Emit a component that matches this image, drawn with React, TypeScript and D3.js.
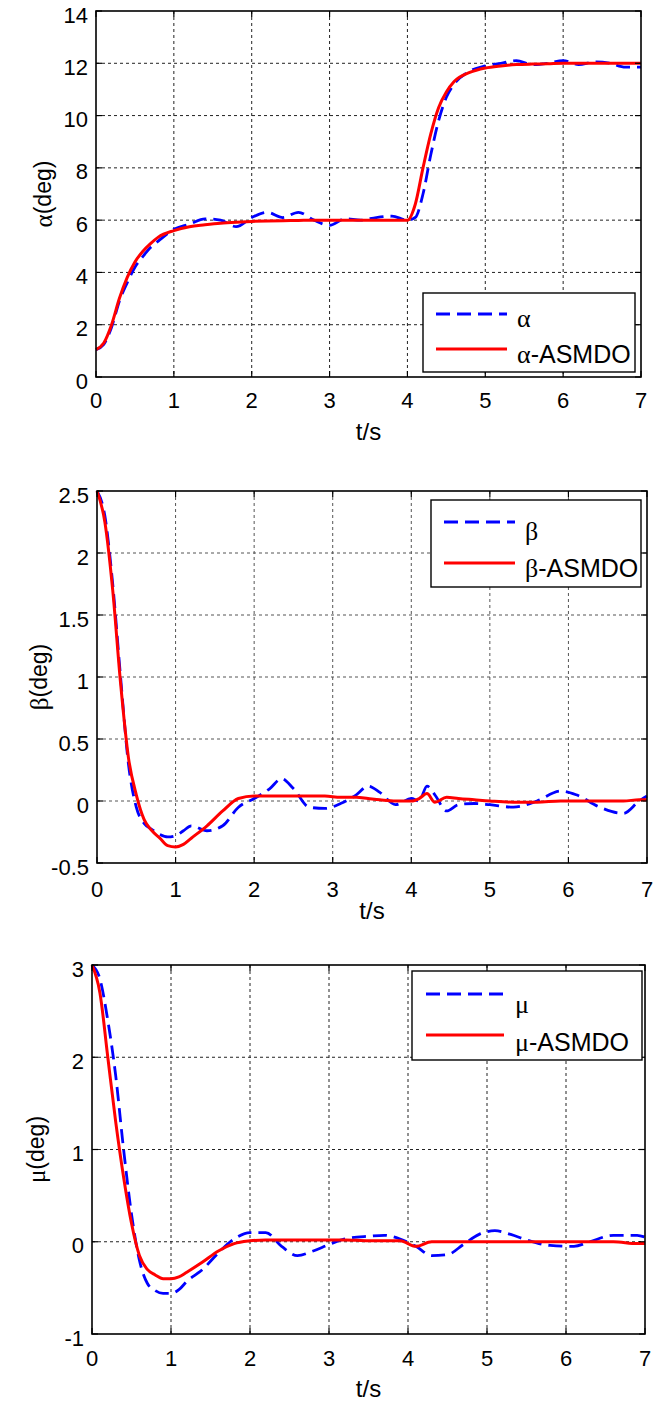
import React from "react";
import * as d3 from "d3";

// time samples (s) and values
const tAlpha = [0, 0.1, 0.2, 0.3, 0.4, 0.5, 0.6, 0.7, 0.8, 1.0, 1.2, 1.4, 1.6, 1.8, 2.0, 2.2, 2.4, 2.6, 2.8, 3.0, 3.2, 3.4, 3.6, 3.8, 4.0, 4.1, 4.2, 4.3, 4.4, 4.5, 4.6, 4.8, 5.0, 5.2, 5.4, 5.6, 5.8, 6.0, 6.2, 6.4, 6.6, 6.8, 7.0];
const alphaTrue = [1.05, 1.25, 1.9, 2.9, 3.6, 4.2, 4.6, 4.95, 5.2, 5.65, 5.85, 6.05, 6.0, 5.75, 6.1, 6.3, 6.1, 6.3, 6.0, 5.8, 6.05, 6.0, 6.1, 6.15, 6.0, 6.1, 7.0, 8.5, 9.8, 10.7, 11.2, 11.7, 11.9, 12.0, 12.1, 11.95, 12.0, 12.1, 11.95, 12.05, 12.0, 11.85, 11.85];
const alphaEst = [1.05, 1.3, 2.0, 3.0, 3.8, 4.4, 4.8, 5.1, 5.35, 5.6, 5.75, 5.82, 5.88, 5.92, 5.95, 5.97, 5.98, 5.99, 6.0, 6.0, 6.0, 6.0, 6.0, 6.0, 6.0, 6.6, 8.0, 9.3, 10.3, 10.9, 11.3, 11.65, 11.82, 11.9, 11.95, 11.97, 11.98, 12.0, 12.0, 12.0, 12.0, 12.0, 12.0];

const tBeta = [0, 0.1, 0.2, 0.3, 0.4, 0.5, 0.6, 0.7, 0.8, 0.9, 1.0, 1.1, 1.2, 1.4, 1.6, 1.8, 2.0, 2.2, 2.35, 2.5, 2.7, 2.9, 3.1, 3.3, 3.45, 3.6, 3.8, 4.0, 4.1, 4.2, 4.3, 4.45, 4.6, 4.8, 5.0, 5.3, 5.6, 5.9, 6.1, 6.4, 6.7, 6.9, 7.0];
const betaTrue = [2.5, 2.3, 1.75, 1.0, 0.3, -0.05, -0.18, -0.23, -0.27, -0.29, -0.28, -0.24, -0.2, -0.24, -0.2, -0.05, 0.02, 0.1, 0.18, 0.1, -0.05, -0.06, -0.02, 0.05, 0.12, 0.07, -0.03, 0.02, 0.0, 0.12, 0.05, -0.08, -0.03, -0.02, -0.03, -0.05, 0.0, 0.08, 0.05, -0.05, -0.1, 0.0, 0.04];
const betaEst = [2.5, 2.25, 1.7, 0.95, 0.35, 0.05, -0.15, -0.24, -0.3, -0.36, -0.37, -0.35, -0.3, -0.2, -0.08, 0.02, 0.04, 0.04, 0.04, 0.04, 0.04, 0.04, 0.03, 0.03, 0.02, 0.01, 0.0, 0.0, 0.02, 0.06, -0.01, 0.03, 0.02, 0.01, 0.0, -0.01, -0.01, 0.0, 0.0, 0.0, 0.0, 0.01, 0.01];

const tMu = [0, 0.1, 0.2, 0.3, 0.4, 0.5, 0.6, 0.7, 0.8, 0.9, 1.0, 1.1, 1.2, 1.4, 1.6, 1.8, 2.0, 2.2, 2.4, 2.6, 2.8, 3.0, 3.2, 3.5, 3.7, 3.9, 4.1, 4.3, 4.5, 4.7, 4.9, 5.1, 5.3, 5.5, 5.8, 6.1, 6.3, 6.6, 6.9, 7.0];
const muTrue = [3.0, 2.85, 2.4, 1.8, 1.0, 0.3, -0.2, -0.45, -0.53, -0.56, -0.56, -0.52, -0.43, -0.3, -0.12, 0.03, 0.1, 0.1, -0.05, -0.15, -0.1, -0.03, 0.03, 0.06, 0.07, 0.03, -0.05, -0.15, -0.14, -0.03, 0.08, 0.12, 0.08, 0.02, -0.04, -0.05, 0.0, 0.07, 0.07, 0.05];
const muEst = [3.0, 2.7, 2.0, 1.3, 0.7, 0.2, -0.15, -0.3, -0.36, -0.4, -0.4, -0.38, -0.33, -0.22, -0.1, -0.02, 0.01, 0.02, 0.02, 0.02, 0.02, 0.02, 0.02, 0.01, 0.01, 0.01, -0.05, 0.0, 0.0, 0.0, 0.0, 0.0, 0.0, 0.0, 0.0, 0.0, 0.0, 0.0, -0.02, -0.02];

const xTicks = [0, 1, 2, 3, 4, 5, 6, 7];
const alphaTicks = [0, 2, 4, 6, 8, 10, 12, 14];
const betaTicks = [-0.5, 0, 0.5, 1, 1.5, 2, 2.5];
const muTicks = [-1, 0, 1, 2, 3];

const FONT = "Arial, 'Liberation Sans', Helvetica, sans-serif";
const GREEK = "'Times New Roman', 'Liberation Serif', serif";

type PanelProps = {
  frame: { left: number; right: number; top: number; bottom: number };
  t: number[];
  obs: number[];
  est: number[];
  yTicks: number[];
  sym: string;
  grid: string;
  xLabelY: number;
  xTickDy: number;
  yLabelX: number;
  legend: { x0: number; x1: number; y0: number; y1: number; lx0: number; lx1: number; ly1: number; ly2: number; tx: number; ty1: number; ty2: number };
};

function Panel({ frame, t, obs, est, yTicks, sym, grid, xLabelY, xTickDy, yLabelX, legend }: PanelProps) {
  const { left, right, top, bottom } = frame;
  const x = d3.scaleLinear().domain([0, 7]).range([left, right]);
  const y = d3.scaleLinear().domain([yTicks[0], yTicks[yTicks.length - 1]]).range([bottom, top]);
  const line = d3
    .line<number>()
    .x((_, i) => x(t[i]))
    .y((d) => y(d))
    .curve(d3.curveMonotoneX);
  const tick = 6;

  return (
    <g>
      {/* grid */}
      {xTicks.slice(1, -1).map((v) => (
        <line key={"gx" + v} x1={x(v)} x2={x(v)} y1={top} y2={bottom} stroke={grid} strokeWidth={1} strokeDasharray="3,3" />
      ))}
      {yTicks.slice(1, -1).map((v) => (
        <line key={"gy" + v} x1={left} x2={right} y1={y(v)} y2={y(v)} stroke={grid} strokeWidth={1} strokeDasharray="3,3" />
      ))}

      {/* curves */}
      <path d={line(obs) || ""} fill="none" stroke="#0000ff" strokeWidth={2.8} strokeDasharray="14,7" />
      <path d={line(est) || ""} fill="none" stroke="#ff0000" strokeWidth={3} />

      {/* ticks, inward on all sides */}
      {xTicks.map((v) => (
        <g key={"tx" + v}>
          <line x1={x(v)} x2={x(v)} y1={bottom} y2={bottom - tick} stroke="#000" strokeWidth={1.2} />
          <line x1={x(v)} x2={x(v)} y1={top} y2={top + tick} stroke="#000" strokeWidth={1.2} />
          <text x={x(v)} y={bottom + xTickDy} textAnchor="middle" fontSize={22} fontFamily={FONT}>
            {v}
          </text>
        </g>
      ))}
      {yTicks.map((v) => (
        <g key={"ty" + v}>
          <line x1={left} x2={left + tick} y1={y(v)} y2={y(v)} stroke="#000" strokeWidth={1.2} />
          <line x1={right} x2={right - tick} y1={y(v)} y2={y(v)} stroke="#000" strokeWidth={1.2} />
          <text x={left - 8} y={y(v) + 11.5} textAnchor="end" fontSize={22} fontFamily={FONT}>
            {v}
          </text>
        </g>
      ))}

      <rect x={left} y={top} width={right - left} height={bottom - top} fill="none" stroke="#000" strokeWidth={1.6} />

      {/* labels */}
      <text x={(left + right) / 2} y={xLabelY} textAnchor="middle" fontSize={24} fontFamily={FONT}>
        t/s
      </text>
      <text
        transform={`translate(${yLabelX},${(top + bottom) / 2}) rotate(-90)`}
        textAnchor="middle"
        dominantBaseline="central"
        fontSize={23}
        fontFamily={FONT}
      >
        <tspan fontFamily={GREEK} fontSize={25}>{sym}</tspan>(deg)
      </text>

      {/* legend */}
      <rect x={legend.x0} y={legend.y0} width={legend.x1 - legend.x0} height={legend.y1 - legend.y0} fill="#fff" stroke="#000" strokeWidth={1.4} />
      <line x1={legend.lx0} x2={legend.lx1} y1={legend.ly1} y2={legend.ly1} stroke="#0000ff" strokeWidth={2.8} strokeDasharray="14,7" />
      <line x1={legend.lx0} x2={legend.lx1} y1={legend.ly2} y2={legend.ly2} stroke="#ff0000" strokeWidth={3} />
      <text x={legend.tx} y={legend.ty1} fontSize={26} fontFamily={GREEK}>
        {sym}
      </text>
      <text x={legend.tx} y={legend.ty2} fontSize={25} fontFamily={FONT}>
        <tspan fontFamily={GREEK} fontSize={26}>{sym}</tspan>-ASMDO
      </text>
    </g>
  );
}

export default function App() {
  return (
    <svg width={653} height={1405} style={{ position: "absolute", left: 0, top: 0, background: "#fff" }}>
      <rect width={653} height={1405} fill="#fff" />
      <Panel
        frame={{ left: 96, right: 641, top: 11, bottom: 377 }}
        t={tAlpha}
        obs={alphaTrue}
        est={alphaEst}
        yTicks={alphaTicks}
        sym="α"
        grid="#222"
        xLabelY={440}
        xTickDy={31}
        yLabelX={43}
        legend={{ x0: 423, x1: 635, y0: 293, y1: 372, lx0: 436, lx1: 507, ly1: 314, ly2: 349, tx: 517, ty1: 327, ty2: 363 }}
      />
      <Panel
        frame={{ left: 97, right: 647, top: 491, bottom: 863 }}
        t={tBeta}
        obs={betaTrue}
        est={betaEst}
        yTicks={betaTicks}
        sym="β"
        grid="#555"
        xLabelY={919}
        xTickDy={34}
        yLabelX={39}
        legend={{ x0: 431, x1: 641, y0: 500, y1: 587, lx0: 444, lx1: 515, ly1: 522, ly2: 563, tx: 525, ty1: 540, ty2: 577 }}
      />
      <Panel
        frame={{ left: 92, right: 645, top: 965, bottom: 1334 }}
        t={tMu}
        obs={muTrue}
        est={muEst}
        yTicks={muTicks}
        sym="μ"
        grid="#222"
        xLabelY={1397}
        xTickDy={32}
        yLabelX={36}
        legend={{ x0: 412, x1: 642, y0: 971, y1: 1060, lx0: 426, lx1: 504, ly1: 994, ly2: 1035, tx: 515, ty1: 1013, ty2: 1051 }}
      />
    </svg>
  );
}
